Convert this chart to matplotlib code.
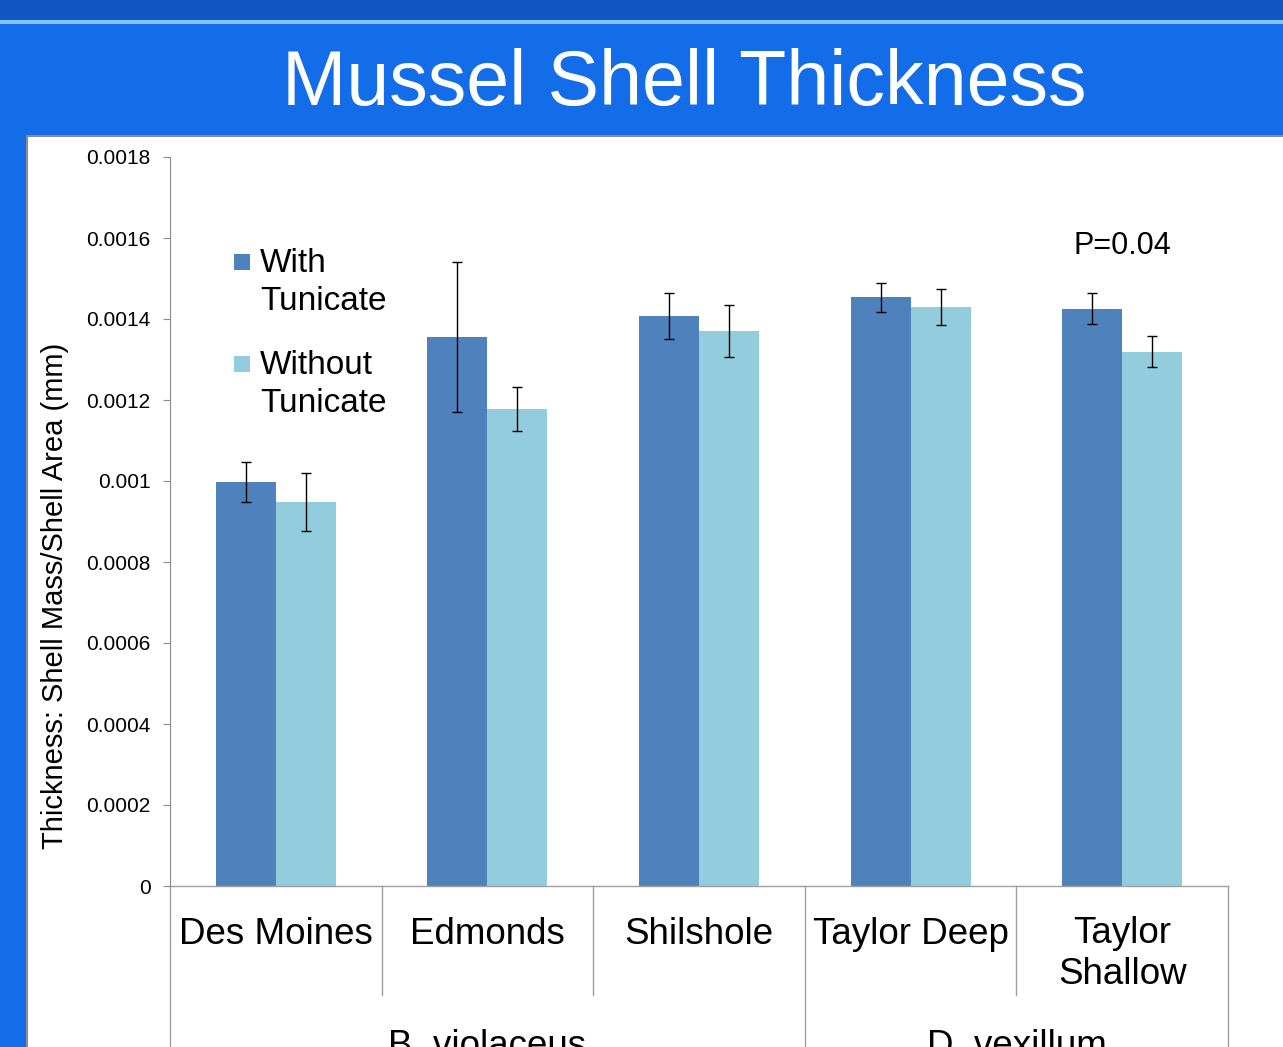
import numpy as np
import matplotlib.pyplot as plt
from matplotlib.patches import Rectangle
from matplotlib.transforms import blended_transform_factory

sites = ['Des Moines', 'Edmonds', 'Shilshole', 'Taylor Deep', 'Taylor\nShallow']
groups = ['B. violaceus', 'D. vexillum']
group_sizes = [3, 2]
with_tun = [0.000998, 0.001356, 0.001407, 0.001454, 0.001425]
with_err = [0.000050, 0.000185, 0.000056, 0.000036, 0.000038]
without_tun = [0.000948, 0.001178, 0.001370, 0.001430, 0.001319]
without_err = [0.000071, 0.000054, 0.000064, 0.000044, 0.000038]
series_names = ['With\nTunicate', 'Without\nTunicate']
colors = ['#4f81bd', '#93cddd']

W, H = 1283, 1047
plt.rcParams['font.family'] = ['Liberation Sans', 'DejaVu Sans']

fig = plt.figure(figsize=(W / 100, H / 100), dpi=100)
fig.patch.set_facecolor('#136ce8')


def px_rect(x0, y0, x1, y1, zorder=-5, **kw):
    # rectangle given in image pixels (top-left origin)
    r = Rectangle((x0 / W, 1 - y1 / H), (x1 - x0) / W, (y1 - y0) / H,
                  transform=fig.transFigure, zorder=zorder, **kw)
    fig.patches.append(r)


px_rect(0, 0, W, 20, facecolor='#1157c4', edgecolor='none')
px_rect(0, 20, W, 24, facecolor='#82c2f8', edgecolor='none')
px_rect(27, 136, W + 5, H + 5, facecolor='white', edgecolor='#8c8c8c', linewidth=1.5)

fig.text(684 / W, 1 - 85 / H, 'Mussel Shell Thickness', color='white',
         fontsize=55.5, ha='center', va='center')

ax = fig.add_axes([170 / W, 1 - 886 / H, (1228 - 170) / W, (886 - 157) / H])
ax.set_facecolor('none')

x = np.arange(len(sites))
bw = 0.2835
ax.bar(x - bw / 2, with_tun, bw, color=colors[0], zorder=2)
ax.bar(x + bw / 2, without_tun, bw, color=colors[1], zorder=2)
ax.errorbar(x - bw / 2, with_tun, yerr=with_err, fmt='none', ecolor='black',
            elinewidth=1, capsize=3.5, capthick=1, zorder=3)
ax.errorbar(x + bw / 2, without_tun, yerr=without_err, fmt='none', ecolor='black',
            elinewidth=1, capsize=3.5, capthick=1, zorder=3)

ax.set_xlim(-0.5, len(sites) - 0.5)
ax.set_ylim(0, 0.0018)
yt = np.arange(0, 0.00181, 0.0002)
ax.set_yticks(yt)
ax.set_yticklabels(['0'] + ['%g' % round(v, 4) for v in yt[1:]], fontsize=15)
ax.tick_params(axis='y', length=5, color='#8c8c8c', pad=9)
ax.set_xticks([])
for s in ['top', 'right', 'bottom']:
    ax.spines[s].set_visible(False)
ax.spines['left'].set_color('#8c8c8c')

fig.text(55 / W, 1 - 596 / H, 'Thickness: Shell Mass/Shell Area (mm)',
         rotation=90, fontsize=21, ha='center', va='center')

# category axis below the plot
tr = blended_transform_factory(ax.transData, ax.transAxes)
ah = 886 - 157


def yfrac(py):
    return (886 - py) / ah


line_kw = dict(color='#a0a0a0', lw=1, transform=tr, clip_on=False)
ax.plot([-0.5, len(sites) - 0.5], [0, 0], **line_kw)
bounds = np.concatenate([[0], np.cumsum(group_sizes)]) - 0.5
for b in np.arange(-0.5, len(sites), 1.0):
    bottom = yfrac(H + 5) if b in bounds else yfrac(995)
    ax.plot([b, b], [0, bottom], **line_kw)

for i, s in enumerate(sites):
    if '\n' in s:
        ax.text(i, yfrac(916), s, transform=tr, ha='center', va='top',
                fontsize=26.5, linespacing=1.24, clip_on=False)
    else:
        ax.text(i, yfrac(935), s, transform=tr, ha='center', va='center',
                fontsize=26.5, clip_on=False)

for g, (lo, hi) in zip(groups, zip(bounds[:-1], bounds[1:])):
    ax.text((lo + hi) / 2, yfrac(1046), g, transform=tr, ha='center',
            va='center', fontsize=26.5, clip_on=False)

ax.text(4, 0.00158, 'P=0.04', ha='center', va='center', fontsize=22)

# legend: square aligned with first line of each two-line label
for name, col, ytop in zip(series_names, colors, [262, 364]):
    px_rect(234, ytop - 8, 250, ytop + 8, zorder=5, facecolor=col, edgecolor='none')
    fig.text(260 / W, 1 - (ytop - 14) / H, name, fontsize=24, ha='left', va='top',
             linespacing=1.3)

fig.savefig('out.png', dpi=100)
